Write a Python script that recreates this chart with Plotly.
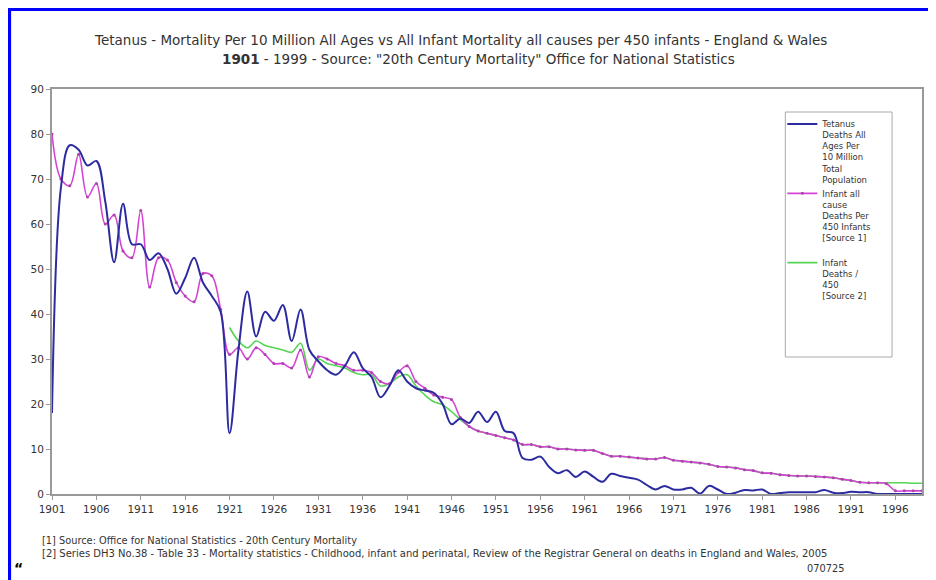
import plotly.graph_objects as go

years = list(range(1901, 2000))

# tetanus deaths all ages per 10 million population
tetanus = [18, 68, 77.5, 76.5, 73, 74, 65, 51.5, 64.5, 55.5,
           55.5, 52, 53.5, 50, 44.5, 48, 52.5, 47, 44, 40.5,
           13.5, 32, 45, 35, 40.5, 38.5, 42, 34, 41, 32,
           29.5, 27.5, 26.5, 28.5, 31.5, 28, 26, 21.5, 24, 27.5,
           25, 23.5, 23, 22.5, 20, 15.5, 16.8, 15.8, 18.3, 16,
           18.3, 14, 13.5, 8, 7.6, 8.3, 6, 4.6, 5.3, 3.8,
           5, 3.8, 2.7, 4.5, 4, 3.6, 3.2, 2, 1, 1.8,
           1, 1, 1.4, 0.1, 1.8, 1, 0, 0.3, 0.9, 0.8,
           1, 0, 0.2, 0.4, 0.4, 0.4, 0.4, 0.9, 0.3, 0.2,
           0.5, 0.4, 0.4, 0, 0, 0, 0, 0, 0]

# infant all cause deaths per 450 infants [source 1]
infant_s1 = [80, 70, 68.5, 75.5, 66, 69, 60, 62, 54, 52.5,
             63, 46, 52.5, 52, 47, 44, 42.7, 49, 48.5, 41,
             31, 32.5, 30, 32.5, 31, 29, 29, 28, 32, 26,
             30.5, 30, 29, 28.5, 27.5, 27.5, 27, 25, 24.5, 27,
             28.5, 25, 23.5, 22, 21.5, 21, 17, 15, 14, 13.5,
             13, 12.5, 12, 11, 11, 10.5, 10.5, 10, 10, 9.8,
             9.7, 9.7, 9, 8.4, 8.4, 8.2, 8, 7.8, 7.8, 8.1,
             7.5, 7.3, 7.1, 6.9, 6.6, 6.1, 6, 5.8, 5.4, 5.2,
             4.7, 4.6, 4.3, 4.1, 4, 4, 3.9, 3.8, 3.6, 3.3,
             3, 2.6, 2.5, 2.5, 2.3, 0.7, 0.7, 0.7, 0.7]

# infant deaths / 450 [source 2], from 1921
years_s2 = list(range(1921, 2000))
infant_s2 = [37, 34, 32.5, 34, 33, 32.5, 32, 31.5, 33.5, 27.5,
             30, 29, 28.5, 28, 27, 26.5, 26.5, 24, 24.5, 26,
             26.5, 24, 22, 20.5, 19.8, 18.3, 16.5, 15, 14, 13.5,
             13, 12.5, 12, 11, 11, 10.5, 10.5, 10, 10, 9.8,
             9.7, 9.7, 9, 8.4, 8.4, 8.2, 8, 7.8, 7.8, 8.1,
             7.5, 7.3, 7.1, 6.9, 6.6, 6.1, 6, 5.8, 5.4, 5.2,
             4.7, 4.6, 4.3, 4.1, 4, 4, 3.9, 3.8, 3.6, 3.3,
             3, 2.6, 2.5, 2.5, 2.5, 2.5, 2.5, 2.4, 2.4]

x_ticks = list(range(1901, 2000, 5))

FONT = 'DejaVu Sans, Verdana, sans-serif'

# page has an 8px body margin, so the figure is drawn 8px in from the window
OFF = 8
W, H = 936 - OFF, 580 - OFF
# plot area in window pixels: x 52..924, y 89..494
L, R, T, B = 52 - OFF, 924 - OFF, 89 - OFF, 494 - OFF
def px(x):
    return (x - OFF - L) / (R - L)
def py(y):
    return (B - (y - OFF)) / (B - T)

fig = go.Figure()

fig.add_trace(go.Scatter(
    x=years_s2, y=infant_s2, name='Infant<br>Deaths /<br>450<br>[Source 2]',
    mode='lines', line=dict(color='#55d455', width=1.6, shape='spline'),
    legendrank=3))
fig.add_trace(go.Scatter(
    x=years, y=infant_s1, name='Infant all<br>cause<br>Deaths Per<br>450 Infants<br>[Source 1]<br> ',
    mode='lines+markers', line=dict(color='#d444d4', width=1.6, shape='spline'),
    marker=dict(size=3, color='#b040b0'),
    legendrank=2))
fig.add_trace(go.Scatter(
    x=years, y=tetanus, name='Tetanus<br>Deaths All<br>Ages Per<br>10 Million<br>Total<br>Population',
    mode='lines', line=dict(color='#2c2ca0', width=2, shape='spline'),
    legendrank=1))

fig.update_layout(
    width=W, height=H,
    margin=dict(l=L, r=W - R, t=T, b=H - B),
    paper_bgcolor='white', plot_bgcolor='white',
    font=dict(family=FONT, color='#333'),
    showlegend=True,
    legend=dict(x=px(784), y=py(112), xanchor='left', yanchor='top',
                bgcolor='rgba(0,0,0,0)', borderwidth=0,
                font=dict(size=8.5, color='#333', family=FONT), valign='top',
                itemwidth=30, tracegroupgap=0),
    xaxis=dict(range=[1901, 1999], tickvals=x_ticks, ticks='outside', ticklen=4,
               tickcolor='#999', showline=True, linecolor='#999', linewidth=2,
               mirror=True, showgrid=False, zeroline=False,
               tickfont=dict(size=10.5, color='#333')),
    yaxis=dict(range=[0, 90], dtick=10, ticks='outside', ticklen=4,
               tickcolor='#999', showline=True, linecolor='#999', linewidth=2,
               mirror=True, showgrid=False, zeroline=False,
               tickfont=dict(size=10.5, color='#333')),
)

# legend box, blue page frame
fig.add_shape(type='rect', xref='paper', yref='paper',
              x0=px(787), x1=px(894), y0=py(357), y1=py(112),
              line=dict(color='#aaa', width=1))
fig.add_shape(type='line', xref='paper', yref='paper',
              x0=px(9), x1=px(9), y0=py(7), y1=py(600),
              line=dict(color='#0000ff', width=4))
fig.add_shape(type='line', xref='paper', yref='paper',
              x0=px(7), x1=px(960), y0=py(9), y1=py(9),
              line=dict(color='#0000ff', width=4))

notes = [
    (px(461), py(40), 'Tetanus - Mortality Per 10 Million All Ages vs All Infant Mortality all causes per 450 infants - England & Wales', 13.5, 'center'),
    (px(479), py(59), '<b>1901</b> - 1999 - Source: "20th Century Mortality" Office for National Statistics', 13.5, 'center'),
    (px(40), py(540), '[1] Source: Office for National Statistics - 20th Century Mortality', 9.8, 'left'),
    (px(40), py(553), '[2] Series DH3 No.38 - Table 33 - Mortality statistics - Childhood, infant and perinatal, Review of the Registrar General on deaths in England and Wales, 2005', 10, 'left'),
    (px(848), py(568), '070725', 9.8, 'right'),
]
for x, y, text, size, anchor in notes:
    fig.add_annotation(x=x, y=y, xref='paper', yref='paper', text=text,
                       showarrow=False, xanchor=anchor, yanchor='middle',
                       font=dict(size=size, color='#333', family=FONT))

fig.add_annotation(x=px(12), y=py(568), xref='paper', yref='paper', text='<b>“</b>',
                   showarrow=False, xanchor='left', yanchor='middle',
                   font=dict(size=14, color='black', family=FONT))

fig.write_html('out.html')
